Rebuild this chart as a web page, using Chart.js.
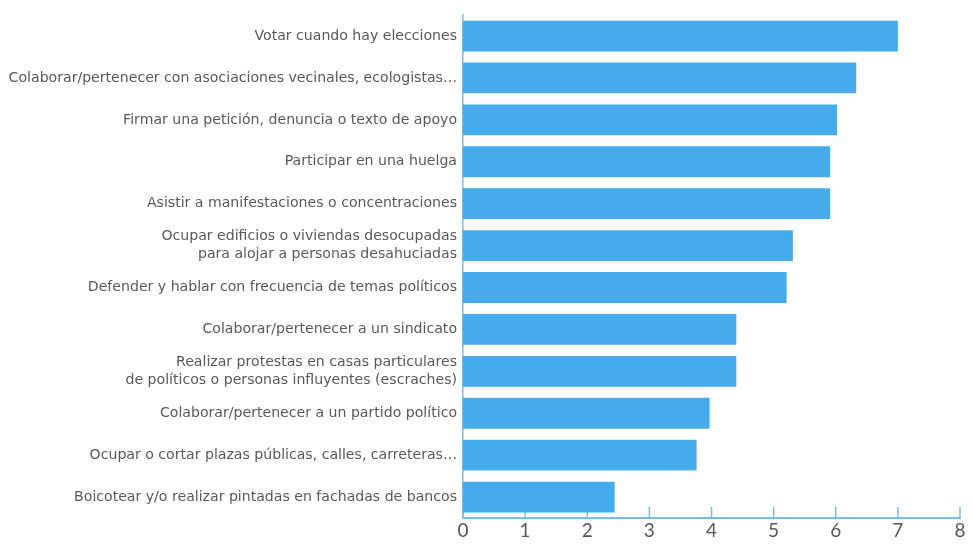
<!DOCTYPE html>
<html>
<head>
<meta charset="utf-8">
<title>Acciones políticas</title>
<script src="https://cdn.jsdelivr.net/npm/chart.js@4.4.1/dist/chart.umd.min.js"></script>
<style>
  body { margin: 0; background: #fff; }
  #wrap { width: 973px; height: 547px; }
</style>
</head>
<body>
<div id="wrap"><canvas id="myChart"></canvas></div>
<script>
// Categories, top to bottom
const actions = [
  'Votar cuando hay elecciones',
  'Colaborar/pertenecer con asociaciones vecinales, ecologistas…',
  'Firmar una petición, denuncia o texto de apoyo',
  'Participar en una huelga',
  'Asistir a manifestaciones o concentraciones',
  ['Ocupar edificios o viviendas desocupadas', 'para alojar a personas desahuciadas'],
  'Defender y hablar con frecuencia de temas políticos',
  'Colaborar/pertenecer a un sindicato',
  ['Realizar protestas en casas particulares', 'de políticos o personas influyentes (escraches)'],
  'Colaborar/pertenecer a un partido político',
  'Ocupar o cortar plazas públicas, calles, carreteras…',
  'Boicotear y/o realizar pintadas en fachadas de bancos'
];
const scores = [7.0, 6.33, 6.02, 5.91, 5.91, 5.31, 5.21, 4.40, 4.40, 3.97, 3.76, 2.44];
const xTicks = [0, 1, 2, 3, 4, 5, 6, 7, 8];

const barColor = '#45abed';
const axisColor = '#7bbbe6';
const textColor = '#585858';

// Short tick marks pointing up from the x axis, drawn under the bars
const upTicks = {
    id: 'upTicks',
    beforeDatasetsDraw(chart) {
        const x = chart.scales.x;
        const ctx = chart.ctx;
        const bottom = chart.chartArea.bottom;
        ctx.save();
        ctx.strokeStyle = axisColor;
        ctx.lineWidth = 1.5;
        x.ticks.forEach((t, i) => {
            const px = x.getPixelForTick(i);
            ctx.beginPath();
            ctx.moveTo(px, bottom);
            ctx.lineTo(px, bottom - 11);
            ctx.stroke();
        });
        ctx.restore();
    }
};

new Chart(document.getElementById('myChart').getContext('2d'), {
    type: 'bar',
    data: {
        labels: actions,
        datasets: [{
            data: scores,
            backgroundColor: barColor,
            borderWidth: 0,
            barPercentage: 0.735,
            categoryPercentage: 1
        }]
    },
    options: {
        indexAxis: 'y',
        responsive: true,
        maintainAspectRatio: false,
        animation: false,
        layout: { padding: { top: 11, right: 13, bottom: 0, left: 0 } },
        plugins: {
            legend: { display: false },
            tooltip: { enabled: false }
        },
        scales: {
            x: {
                min: xTicks[0],
                max: xTicks[xTicks.length - 1],
                grid: { display: false, drawTicks: false },
                border: { display: true, color: axisColor, width: 2 },
                afterBuildTicks: scale => {
                    scale.ticks = xTicks.map(v => ({ value: v }));
                },
                afterFit: scale => { scale.height = 29; },
                ticks: {
                    padding: 1,
                    color: textColor,
                    font: { family: 'Lato', size: 19 }
                }
            },
            y: {
                grid: { display: false, drawTicks: false },
                border: { display: true, color: axisColor, width: 1.5 },
                afterFit: scale => { scale.width = 463; },
                ticks: {
                    padding: 6,
                    color: textColor,
                    font: { family: 'DejaVu Sans', size: 14.1, lineHeight: 1.29 }
                }
            }
        }
    },
    plugins: [upTicks]
});
</script>
</body>
</html>
